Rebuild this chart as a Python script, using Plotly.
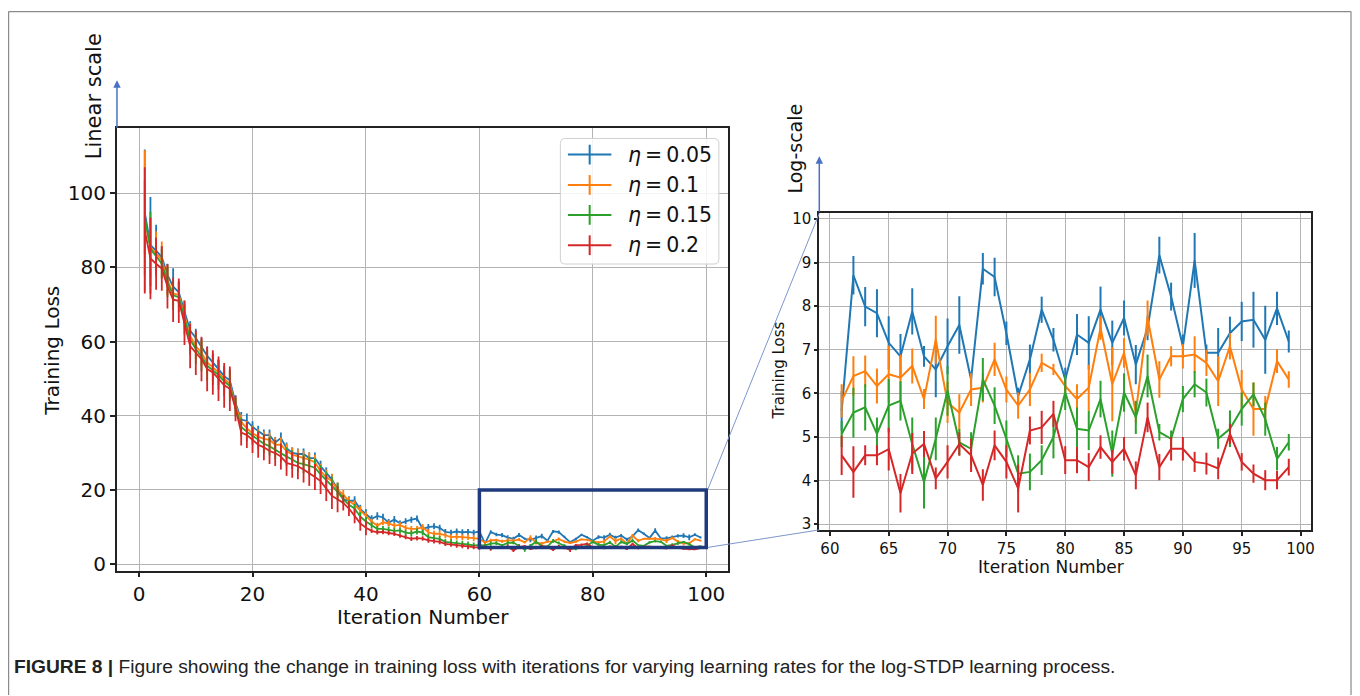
import plotly.graph_objects as go

# The page body has an 8px margin, so the figure is 8px smaller and all
# reference pixel positions are shifted by 8px.
PAGE_W, PAGE_H = 1360, 696
OFF = 8
W, H = PAGE_W - OFF, PAGE_H - OFF

iterations = list(range(1, 100))
series_names = ["η = 0.05", "η = 0.1", "η = 0.15", "η = 0.2"]
legend_labels = ["<i>η</i>\u2009=\u20090.05", "<i>η</i>\u2009=\u20090.1",
                 "<i>η</i>\u2009=\u20090.15", "<i>η</i>\u2009=\u20090.2"]
colors = ["#1f77b4", "#ff7f0e", "#2ca02c", "#d62728"]

loss_005 = [94.8, 86.0, 84.5, 82.8, 78.0, 74.8, 73.3, 68.0, 63.0, 61.0,
            58.5, 56.2, 54.4, 52.6, 50.7, 49.6, 43.5, 39.0, 38.6, 37.0,
            35.8, 34.8, 34.8, 32.8, 34.0, 31.3, 30.0, 29.7, 29.7, 28.6,
            28.6, 26.4, 24.6, 22.8, 20.2, 17.5, 17.1, 17.1, 14.8, 13.6,
            12.2, 13.0, 12.6, 11.2, 12.0, 11.0, 11.6, 12.0, 12.3, 9.5,
            10.0, 10.2, 9.8, 8.7, 8.5, 8.8, 8.6, 8.7, 8.5, 8.8,
            5.6, 8.71, 7.99, 7.84, 7.16, 6.85, 7.88, 6.85, 6.55, 7.08,
            7.57, 6.32, 8.86, 8.67, 7.38, 5.94, 6.78, 7.92, 7.23, 6.32,
            7.35, 7.16, 7.92, 7.16, 7.73, 6.66, 7.5, 9.17, 8.22, 7.08,
            9.05, 6.93, 6.93, 7.38, 7.65, 7.69, 7.23, 7.95, 7.19]
err_005 = [17, 13, 7, 3, 3, 5, 3, 3, 2.5, 2.5,
           2.5, 2.5, 2.5, 2.5, 2.5, 3, 2, 2, 2, 1.5,
           1.5, 1.5, 1.5, 1.5, 1.5, 1.5, 1.5, 1.5, 1.5, 1.5,
           1.5, 1.5, 1.5, 1.5, 1.5, 1.2, 1.2, 1.2, 1.2, 1.2,
           1.0, 1.0, 1.0, 1.0, 1.0, 0.8, 0.8, 0.8, 0.8, 0.8,
           0.8, 0.8, 0.8, 0.8, 0.8, 0.8, 0.8, 0.8, 0.8, 0.8,
           0.45, 0.44, 0.45, 0.55, 0.61, 0.51, 0.53, 0.24, 0.64, 0.64,
           0.66, 0.17, 0.36, 0.44, 0.27, 0.19, 0.34, 0.30, 0.27, 0.27,
           0.47, 0.61, 0.53, 0.51, 0.40, 0.45, 0.28, 0.42, 0.32, 0.27,
           0.63, 0.19, 0.57, 0.38, 0.45, 0.64, 0.78, 0.38, 0.25]

loss_01 = [92.6, 85.5, 83.7, 82.0, 76.6, 73.0, 72.6, 66.8, 61.5, 58.8,
           57.0, 54.4, 53.0, 51.7, 50.0, 48.6, 42.8, 38.4, 36.6, 35.3,
           34.4, 33.8, 33.5, 32.2, 32.2, 30.5, 29.5, 29.05, 28.6, 28.2,
           27.5, 25.1, 23.5, 22.4, 20.0, 18.8, 17.0, 16.0, 14.5, 13.0,
           11.5, 10.4, 11.3, 11.0, 10.4, 10.6, 9.8, 9.5, 9.5, 10.0,
           8.6, 8.2, 8.2, 7.8, 7.3, 7.4, 7.3, 7.3, 7.0, 6.8,
           5.83, 6.40, 6.51, 6.17, 6.44, 6.36, 6.63, 5.87, 7.23, 5.79,
           5.56, 6.09, 6.13, 6.78, 6.09, 5.72, 6.09, 6.70, 6.55, 6.17,
           5.87, 6.13, 7.5, 6.21, 6.93, 5.56, 7.73, 6.32, 6.85, 6.85,
           6.89, 6.70, 6.28, 7.08, 6.09, 5.64, 5.64, 6.74, 6.32]
err_01 = [19, 8, 6, 5, 4, 3.5, 3.5, 3.5, 3.5, 3.5,
          3.5, 3.5, 3.5, 3.5, 3.5, 3.5, 2, 2, 2, 2,
          2, 2, 2, 2, 2, 2, 2, 2, 2, 2,
          2, 2, 2, 2, 2, 1.2, 1.2, 1.2, 1.2, 1.2,
          0.8, 0.8, 0.8, 0.8, 0.8, 0.8, 0.8, 0.8, 0.8, 0.8,
          0.8, 0.8, 0.8, 0.8, 0.8, 0.8, 0.8, 0.8, 0.8, 0.8,
          0.38, 0.45, 0.36, 0.40, 0.66, 0.53, 0.40, 0.23, 0.55, 0.47,
          0.42, 0.38, 0.34, 0.38, 0.30, 0.30, 0.38, 0.21, 0.13, 0.15,
          0.34, 0.53, 0.27, 0.85, 0.34, 0.23, 0.40, 0.42, 0.23, 0.28,
          0.42, 0.30, 0.57, 0.30, 0.45, 0.61, 0.30, 0.27, 0.19]

loss_015 = [93.5, 85.0, 83.0, 81.0, 76.0, 72.5, 72.0, 66.0, 60.5, 58.0,
            56.0, 53.5, 52.3, 51.0, 49.3, 48.0, 42.3, 37.0, 35.7, 34.6,
            33.5, 32.5, 31.8, 30.8, 30.0, 29.0, 28.2, 27.3, 27.0, 26.5,
            26.0, 24.2, 22.5, 21.1, 19.5, 17.5, 16.0, 15.0, 12.8, 11.5,
            10.5, 9.5, 9.5, 9.3, 9.0, 9.1, 8.5, 8.3, 8.8, 8.5,
            7.3, 7.0, 6.8, 6.0, 5.9, 5.6, 5.5, 5.3, 5.05, 5.1,
            5.07, 5.56, 5.68, 5.07, 5.72, 5.83, 4.84, 3.97, 4.96, 6.06,
            4.88, 4.73, 6.32, 5.72, 4.96, 4.16, 4.2, 4.47, 5.0, 6.02,
            5.19, 5.15, 5.87, 4.62, 6.02, 5.45, 6.40, 5.11, 4.96, 5.87,
            6.21, 6.02, 4.96, 5.19, 5.64, 5.98, 5.41, 4.5, 4.88]
err_015 = [10, 10, 5, 4, 4, 4, 4, 4, 4, 4,
           4, 4, 4, 4, 4, 4, 2.5, 2.5, 2.5, 2.5,
           2.5, 2.5, 2.5, 2.5, 2.5, 2.5, 2.5, 2.5, 2.5, 2.5,
           2.5, 2.5, 2.5, 2.5, 2.5, 1.2, 1.2, 1.2, 1.2, 1.2,
           0.8, 0.8, 0.8, 0.8, 0.8, 0.8, 0.8, 0.8, 0.8, 0.8,
           0.8, 0.8, 0.8, 0.8, 0.8, 0.8, 0.8, 0.8, 0.8, 0.8,
           0.30, 0.57, 0.53, 0.38, 0.61, 0.45, 0.61, 0.61, 0.49, 0.57,
           0.30, 0.38, 0.49, 0.42, 0.42, 0.42, 0.42, 0.34, 0.49, 0.40,
           0.49, 0.45, 0.42, 0.53, 0.44, 0.38, 0.49, 0.19, 0.19, 0.30,
           0.30, 0.32, 0.23, 0.42, 0.38, 0.27, 0.38, 0.27, 0.19]

loss_02 = [90.0, 82.4, 81.0, 79.7, 74.9, 71.3, 71.0, 65.1, 58.8, 57.0,
           55.3, 52.6, 51.7, 50.0, 48.2, 47.3, 42.0, 35.5, 34.8, 33.5,
           32.2, 31.5, 30.5, 29.95, 29.0, 27.3, 26.8, 26.4, 25.5, 24.6,
           23.5, 22.4, 20.5, 18.4, 17.5, 16.5, 15.0, 13.0, 11.0, 9.8,
           9.0, 8.6, 8.7, 8.4, 8.2, 7.7, 7.3, 6.85, 7.0, 6.9,
           6.4, 6.2, 6.0, 5.5, 5.3, 5.0, 4.9, 4.6, 4.6, 4.5,
           4.58, 4.2, 4.58, 4.58, 4.72, 3.71, 4.62, 4.84, 4.05, 4.43,
           4.84, 4.58, 3.90, 4.81, 4.43, 3.82, 5.15, 5.22, 5.53, 4.47,
           4.47, 4.31, 4.77, 4.43, 4.73, 4.12, 5.45, 4.31, 4.73, 4.73,
           4.43, 4.39, 4.28, 5.07, 4.43, 4.16, 4.01, 4.01, 4.31]
err_02 = [17, 11, 7, 6, 6, 6, 6, 6, 6, 6,
          6, 6, 6, 6, 6, 6, 3.5, 3.5, 3.5, 3.5,
          3.5, 3.5, 3.5, 3.5, 3.5, 3.5, 3.5, 3.5, 3.5, 3.5,
          3.5, 3.5, 3.5, 3.5, 3.5, 2, 2, 2, 2, 2,
          0.6, 0.6, 0.6, 0.6, 0.6, 0.6, 0.6, 0.6, 0.6, 0.6,
          0.6, 0.6, 0.6, 0.6, 0.6, 0.6, 0.6, 0.6, 0.6, 0.6,
          0.45, 0.59, 0.23, 0.23, 0.49, 0.44, 0.47, 0.30, 0.25, 0.38,
          0.27, 0.38, 0.36, 0.34, 0.38, 0.55, 0.32, 0.38, 0.30, 0.32,
          0.30, 0.32, 0.27, 0.27, 0.27, 0.32, 0.34, 0.30, 0.27, 0.27,
          0.23, 0.25, 0.25, 0.23, 0.20, 0.21, 0.23, 0.21, 0.19]

all_loss = [loss_005, loss_01, loss_015, loss_02]
all_err = [err_005, err_01, err_015, err_02]

zoom_start = 61  # first iteration shown in the zoomed panel
left_xticks = [0, 20, 40, 60, 80, 100]
left_yticks = [0, 20, 40, 60, 80, 100]
right_xticks = [60, 65, 70, 75, 80, 85, 90, 95, 100]
right_yticks = [3, 4, 5, 6, 7, 8, 9, 10]
zoom_box_x = [60, 100]
zoom_box_y = [4.5, 20]


def px(x):
    return (x - OFF) / W


def py(y):
    return 1 - (y - OFF) / H


fig = go.Figure()
k0 = iterations.index(zoom_start)
for name, col, ys, es in zip(series_names, colors, all_loss, all_err):
    fig.add_trace(go.Scatter(
        x=iterations, y=ys, mode="lines", name=name, showlegend=False,
        line=dict(color=col, width=1.8),
        error_y=dict(type="data", array=es, visible=True, color=col, thickness=1.8, width=0),
        xaxis="x", yaxis="y"))
    fig.add_trace(go.Scatter(
        x=iterations[k0:], y=ys[k0:], mode="lines", name=name, showlegend=False,
        line=dict(color=col, width=2),
        error_y=dict(type="data", array=es[k0:], visible=True, color=col, thickness=2, width=0),
        xaxis="x2", yaxis="y2"))

FONT = "DejaVu Sans, Verdana, sans-serif"
axis_common = dict(showgrid=True, gridcolor="#b3b3b3", gridwidth=1, zeroline=False,
                   showline=True, linecolor="#222", linewidth=2, mirror=True,
                   ticks="outside", tickcolor="#222", tickwidth=1.5)

fig.update_layout(
    width=W, height=H, margin=dict(l=0, r=0, t=0, b=0),
    paper_bgcolor="white", plot_bgcolor="white", showlegend=False,
    xaxis=dict(domain=[px(117.3), px(730.5)], range=[-3.9, 103.9], tickvals=left_xticks,
               ticklen=4, tickfont=dict(family=FONT, size=20, color="#111"), anchor="y", **axis_common),
    yaxis=dict(domain=[py(575), py(126.7)], range=[-1.95, 117.5], tickvals=left_yticks,
               ticklen=5, tickfont=dict(family=FONT, size=20, color="#111"), anchor="x", **axis_common),
    xaxis2=dict(domain=[px(821.7), px(1315)], range=[59.1, 100.9], tickvals=right_xticks,
                ticklen=4, tickfont=dict(family=FONT, size=15, color="#111"), anchor="y2", **axis_common),
    yaxis2=dict(domain=[py(533), py(212.7)], range=[2.87, 10.13], tickvals=right_yticks,
                ticklen=3, tickfont=dict(family=FONT, size=15, color="#111"), anchor="x2", **axis_common),
)

shapes = []
# zoom rectangle on the linear plot
shapes.append(dict(type="rect", xref="x", yref="y", x0=zoom_box_x[0], x1=zoom_box_x[1],
                   y0=zoom_box_y[0], y1=zoom_box_y[1], line=dict(color="#1f3b7d", width=3.5)))
# connector lines
shapes.append(dict(type="line", xref="paper", yref="paper", x0=px(710), y0=py(491.7),
                   x1=px(821.7), y1=py(212.7), line=dict(color="#7d96cc", width=1)))
shapes.append(dict(type="line", xref="paper", yref="paper", x0=px(710), y0=py(550.7),
                   x1=px(821.7), y1=py(533), line=dict(color="#7d96cc", width=1)))
# outer figure border
shapes.append(dict(type="line", xref="paper", yref="paper", x0=px(8.6), y0=py(8.6), x1=px(8.6), y1=py(700),
                   line=dict(color="#8a8a8a", width=1.2)))
shapes.append(dict(type="line", xref="paper", yref="paper", x0=px(8.6), y0=py(8.6), x1=px(1355), y1=py(8.6),
                   line=dict(color="#8a8a8a", width=1.2)))
shapes.append(dict(type="line", xref="paper", yref="paper", x0=px(1355), y0=py(8.6), x1=px(1355), y1=py(700),
                   line=dict(color="#8a8a8a", width=1.2)))

# legend box (rounded)
lx0, lx1, ly0, ly1, r = 562, 721, 137, 264, 5
path = (f"M {px(lx0 + r)},{py(ly0)} L {px(lx1 - r)},{py(ly0)} Q {px(lx1)},{py(ly0)} {px(lx1)},{py(ly0 + r)} "
        f"L {px(lx1)},{py(ly1 - r)} Q {px(lx1)},{py(ly1)} {px(lx1 - r)},{py(ly1)} "
        f"L {px(lx0 + r)},{py(ly1)} Q {px(lx0)},{py(ly1)} {px(lx0)},{py(ly1 - r)} "
        f"L {px(lx0)},{py(ly0 + r)} Q {px(lx0)},{py(ly0)} {px(lx0 + r)},{py(ly0)} Z")
shapes.append(dict(type="path", xref="paper", yref="paper", path=path,
                   line=dict(color="#d0d0d0", width=1), fillcolor="rgba(255,255,255,0.85)"))
row_y = [153.3, 184, 214.3, 245]
annotations = []
for lab, col, ry in zip(legend_labels, colors, row_y):
    shapes.append(dict(type="line", xref="paper", yref="paper", x0=px(569.6), x1=px(613.2),
                       y0=py(ry), y1=py(ry), line=dict(color=col, width=2)))
    shapes.append(dict(type="line", xref="paper", yref="paper", x0=px(591.4), x1=px(591.4),
                       y0=py(ry - 10), y1=py(ry + 10), line=dict(color=col, width=2)))
    annotations.append(dict(xref="paper", yref="paper", x=px(628), y=py(ry), text=lab,
                            showarrow=False, xanchor="left", yanchor="middle",
                            font=dict(family=FONT, size=20.5, color="#111")))

# axis titles
annotations += [
    dict(xref="paper", yref="paper", x=px(424), y=py(621), text="Iteration Number", showarrow=False,
         xanchor="center", yanchor="middle", font=dict(family=FONT, size=20, color="#111")),
    dict(xref="paper", yref="paper", x=px(52), y=py(352), text="Training Loss", showarrow=False,
         textangle=-90, xanchor="center", yanchor="middle", font=dict(family=FONT, size=20, color="#111")),
    dict(xref="paper", yref="paper", x=px(1054), y=py(571), text="Iteration Number", showarrow=False,
         xanchor="center", yanchor="middle", font=dict(family=FONT, size=17, color="#111")),
    dict(xref="paper", yref="paper", x=px(781.5), y=py(371.5), text="Training Loss", showarrow=False,
         textangle=-90, xanchor="center", yanchor="middle", font=dict(family=FONT, size=15, color="#111")),
    dict(xref="paper", yref="paper", x=px(94.5), y=py(94), text="Linear scale", showarrow=False,
         textangle=-90, xanchor="center", yanchor="middle", font=dict(family=FONT, size=21, color="#111")),
    dict(xref="paper", yref="paper", x=px(797), y=py(147.5), text="Log-scale", showarrow=False,
         textangle=-90, xanchor="center", yanchor="middle", font=dict(family=FONT, size=19, color="#111")),
    # arrows
    dict(xref="paper", yref="paper", x=px(117.3), y=py(78), ax=0, ay=49, text="", showarrow=True,
         arrowhead=2, arrowsize=1, arrowwidth=1.5, arrowcolor="#4a72c4"),
    dict(xref="paper", yref="paper", x=px(821.7), y=py(155), ax=0, ay=57, text="", showarrow=True,
         arrowhead=2, arrowsize=1, arrowwidth=1.5, arrowcolor="#4a72c4"),
    # caption
    dict(xref="paper", yref="paper", x=px(12), y=py(671), xanchor="left", yanchor="middle", showarrow=False,
         text="<b>FIGURE 8 |</b> Figure showing the change in training loss with iterations for varying "
              "learning rates for the log-STDP learning process.",
         font=dict(family="Liberation Sans Narrow, Arial Narrow, Liberation Sans, sans-serif", size=19.2, color="#222")),
]

fig.update_layout(shapes=shapes, annotations=annotations)
fig.write_html("out.html")
